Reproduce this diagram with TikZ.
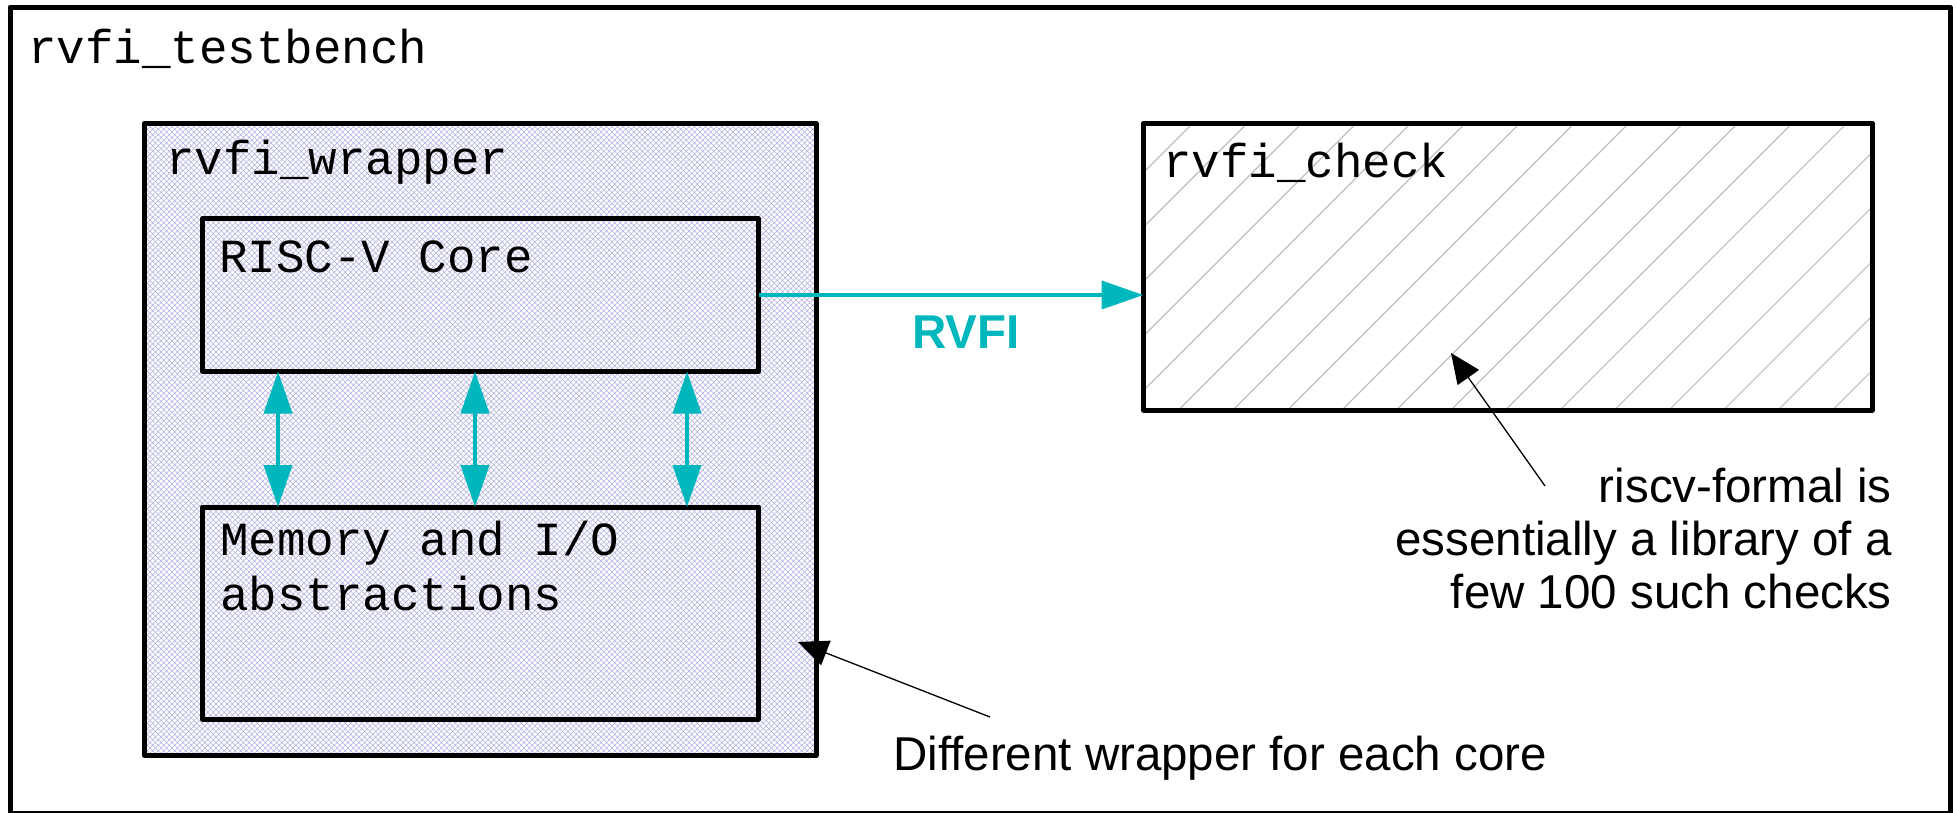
\documentclass[tikz,border=0pt]{standalone}
\usepackage{fontspec}
\setmainfont{Liberation Sans}
\setmonofont{Liberation Mono}
\usetikzlibrary{arrows.meta,backgrounds}
\definecolor{tealc}{RGB}{0,183,189}
\definecolor{hatchA}{RGB}{172,172,222}
\definecolor{hatchB}{RGB}{190,190,190}
\tikzset{
  box/.style={draw=black, line width=5pt, inner sep=0pt, outer sep=0pt, line join=round, anchor=north west},
  monotext/.style={font=\ttfamily\fontsize{47.5pt}{55pt}\selectfont, inner sep=0pt, anchor=base west, align=left},
  sanstext/.style={font=\rmfamily\fontsize{47.5pt}{53pt}\selectfont, inner sep=0pt},
  buslink/.style={draw=tealc, line width=4pt, -{Triangle[length=42pt,width=28pt]}},
  bilink/.style={draw=tealc, line width=4pt, {Triangle[length=42pt,width=28pt]}-{Triangle[length=42pt,width=28pt]}},
  notelink/.style={draw=black, line width=1.3pt, -{Triangle[length=30pt,width=26pt]}}
}
\begin{document}
\begin{tikzpicture}[x=1pt,y=-1pt]
\useasboundingbox (0,0) rectangle (1957,812);
% boxes
\node[box, minimum width=1940pt, minimum height=806pt] (tb) at (10,7) {};
\node[box, minimum width=671.5pt, minimum height=632pt] (wrap) at (144.5,123.5) {};
\node[box, minimum width=556pt, minimum height=153pt] (core) at (202.5,218.5) {};
\node[box, minimum width=556pt, minimum height=212pt] (mem) at (202.5,507) {};
\node[box, minimum width=728.5pt, minimum height=287pt] (check) at (1143.5,123) {};
% hatching
\begin{scope}[on background layer]
  \begin{scope}
    \clip (wrap.north west) rectangle (wrap.south east);
    \foreach \k in {0,...,240} {
      \draw[hatchA, line width=0.6pt] ({140+\k*5.5},120) -- ++(-700,700);
      \draw[hatchA, line width=0.6pt] ({-500+\k*5.5},120) -- ++(700,700);
    }
  \end{scope}
  \begin{scope}
    \clip (check.north west) rectangle (check.south east);
    \foreach \k in {-2,...,20} {
      \draw[hatchB, line width=1.1pt] ({1216+\k*54.5},100) -- ++(-500,500);
    }
  \end{scope}
\end{scope}
% labels
\node[monotext] (tbl) at (28,63) {rvfi\_testbench};
\node[monotext] (wrapl) at (166,174) {rvfi\_wrapper};
\node[monotext] (corel) at (219,272) {RISC-V Core};
\node[monotext] (meml) at (220,610) {Memory and I/O\\abstractions};
\node[monotext] (checkl) at (1163,177) {rvfi\_check};
% connectors
\draw[buslink] (core.east) -- (core.east -| check.west);
\node[sanstext, font=\rmfamily\bfseries\fontsize{47.5pt}{53pt}\selectfont, text=tealc, anchor=base] (rvfil) at (966,348) {RVFI};
\draw[bilink] ([xshift=75.5pt]core.south west) -- ([xshift=75.5pt]mem.north west);
\draw[bilink] ([xshift=272.5pt]core.south west) -- ([xshift=272.5pt]mem.north west);
\draw[bilink] ([xshift=484.5pt]core.south west) -- ([xshift=484.5pt]mem.north west);
% notes
\node[sanstext, anchor=base east, align=right] (note1) at (1892,608) {riscv-formal is\\essentially a library of a\\few 100 such checks};
\node[sanstext, anchor=base west] (note2) at (893,770) {Different wrapper for each core};
\coordinate (n1s) at (1545,486);
\coordinate (n1t) at (1451,353);
\coordinate (n2s) at (990,717);
\coordinate (n2t) at (798,642);
\draw[notelink] (n1s) -- (n1t);
\draw[notelink] (n2s) -- (n2t);
\end{tikzpicture}
\end{document}
